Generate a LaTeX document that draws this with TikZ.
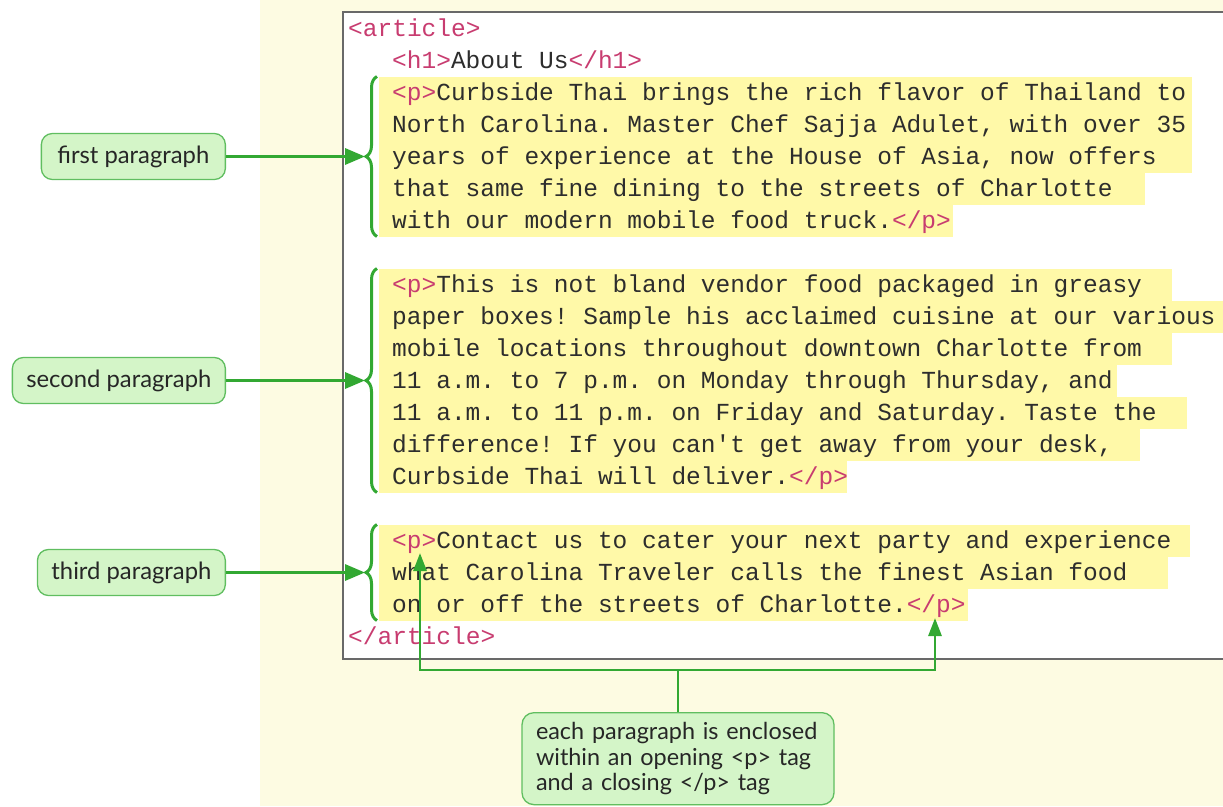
\documentclass[tikz,border=0pt]{standalone}
\usepackage{fontspec}
\setmainfont{Lato}
\newfontfamily\codefont{Liberation Mono}
\usetikzlibrary{arrows.meta,decorations.pathreplacing}

\definecolor{pagebg}{RGB}{253,251,226}
\definecolor{hlyellow}{RGB}{255,249,168}
\definecolor{tagc}{RGB}{200,60,112}
\definecolor{codetext}{RGB}{45,45,45}
\definecolor{linkgreen}{RGB}{50,168,50}
\definecolor{labelfill}{RGB}{212,245,200}
\definecolor{labeldraw}{RGB}{96,190,96}
\definecolor{boxgray}{RGB}{105,105,105}

\newcommand{\tg}[1]{\textcolor{tagc}{#1}}

\tikzset{
  codeline/.style={anchor=base west, inner sep=0pt, text=codetext,
    font=\codefont\fontsize{24.5}{32}\selectfont\frenchspacing},
  labelbox/.style={draw=labeldraw, fill=labelfill, line width=1.3pt,
    rounded corners=11pt, minimum height=46pt, minimum width=184pt,
    inner xsep=14pt, text=black!85,
    font=\fontsize{23.8}{28}\selectfont},
  notebox/.style={draw=labeldraw, fill=labelfill, line width=1.3pt,
    rounded corners=12pt, minimum width=311pt, minimum height=92pt,
    text width=284pt, align=left, inner xsep=14pt, text=black!85,
    font=\fontsize{23.4}{25.5}\selectfont},
  parbrace/.style={draw=linkgreen, line width=3pt,
    decorate, decoration={brace, amplitude=11pt}},
  linkarrow/.style={draw=linkgreen, line width=3.2pt,
    -{Triangle[length=20pt, width=16pt]}},
  tagarrow/.style={draw=linkgreen, line width=2.8pt,
    -{Triangle[length=18pt, width=13pt]}},
  tagline/.style={draw=linkgreen, line width=2.8pt},
}

\begin{document}
\begin{tikzpicture}[x=1pt, y=-1pt]
\useasboundingbox (0,0) rectangle (1223,806);
\clip (0,0) rectangle (1223,806);

% page background
\fill[white] (0,0) rectangle (260,806);
\fill[pagebg] (260,0) rectangle (1223,806);

% code panel
\draw[boxgray, line width=1.4pt, fill=white] (343,12) rectangle (1250,659);

% yellow highlight behind each paragraph line (baseline / right end)
\foreach \b/\r in {100.5/1192, 132.5/1192, 164.5/1192, 196.5/1145, 228.5/953,
                   292.5/1172, 324.5/1250, 356.5/1172, 388.5/1117, 420.5/1187,
                   452.5/1140, 484.5/847,
                   548.5/1190, 580.5/1168, 612.5/968}
  \fill[hlyellow] (379,{\b-24}) rectangle (\r,{\b+8});

% code text
\node[codeline] (art)  at (348,36.5)  {\tg{<article>}};
\node[codeline] (h1)   at (392,68.5)  {\tg{<h1>}About Us\tg{</h1>}};

\node[codeline] (p1a)  at (392,100.5) {\tg{<p>}Curbside Thai brings the rich flavor of Thailand to};
\node[codeline] (p1b)  at (392,132.5) {North Carolina. Master Chef Sajja Adulet, with over 35};
\node[codeline] (p1c)  at (392,164.5) {years of experience at the House of Asia, now offers};
\node[codeline] (p1d)  at (392,196.5) {that same fine dining to the streets of Charlotte};
\node[codeline] (p1e)  at (392,228.5) {with our modern mobile food truck.\tg{</p>}};

\node[codeline] (p2a)  at (392,292.5) {\tg{<p>}This is not bland vendor food packaged in greasy};
\node[codeline] (p2b)  at (392,324.5) {paper boxes! Sample his acclaimed cuisine at our various};
\node[codeline] (p2c)  at (392,356.5) {mobile locations throughout downtown Charlotte from};
\node[codeline] (p2d)  at (392,388.5) {11 a.m. to 7 p.m. on Monday through Thursday, and};
\node[codeline] (p2e)  at (392,420.5) {11 a.m. to 11 p.m. on Friday and Saturday. Taste the};
\node[codeline] (p2f)  at (392,452.5) {difference! If you can't get away from your desk,};
\node[codeline] (p2g)  at (392,484.5) {Curbside Thai will deliver.\tg{</p>}};

\node[codeline] (p3a)  at (392,548.5) {\tg{<p>}Contact us to cater your next party and experience};
\node[codeline] (p3b)  at (392,580.5) {what Carolina Traveler calls the finest Asian food};
\node[codeline] (p3c)  at (392,612.5) {on or off the streets of Charlotte.\tg{</p>}};

\node[codeline] (artend) at (348,644.5) {\tg{</article>}};

% braces around the paragraphs
\draw[parbrace] (377,236.5) -- (377,76.5);
\draw[parbrace] (377,492.5) -- (377,268.5);
\draw[parbrace] (377,620.5) -- (377,524.5);
\coordinate (tip1) at (365,156.5);
\coordinate (tip2) at (365,380.5);
\coordinate (tip3) at (365,572.5);

% paragraph labels
\node[labelbox, anchor=east] (lab1) at (226,156.5) {first paragraph};
\node[labelbox, anchor=east] (lab2) at (226,380.5) {second paragraph};
\node[labelbox, anchor=east] (lab3) at (226,572.5) {third paragraph};

\draw[linkarrow] (lab1.east) -- (tip1);
\draw[linkarrow] (lab2.east) -- (tip2);
\draw[linkarrow] (lab3.east) -- (tip3);

% note on the opening and closing tags
\node[notebox, anchor=north] (note) at (678,712)
  {each paragraph is enclosed\\within an opening <p> tag\\and a closing </p> tag};

\coordinate (fork)   at (678,670);
\coordinate (popen)  at (420,553);
\coordinate (pclose) at (935,618);

\draw[tagline] (note.north) -- (fork);
\draw[tagarrow] (fork) -| (popen);
\draw[tagarrow] (fork) -| (pclose);
\end{tikzpicture}
\end{document}
